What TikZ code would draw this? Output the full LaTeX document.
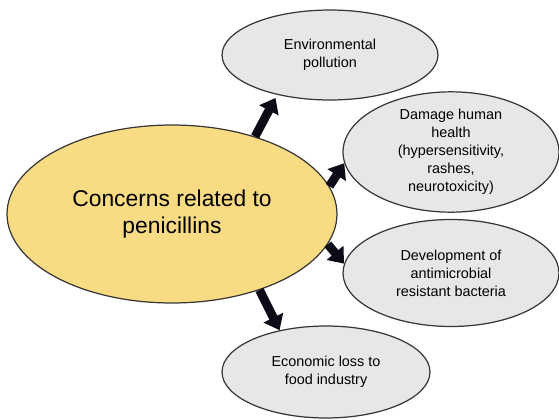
\documentclass[tikz,border=0pt]{standalone}
\usepackage{fontspec}
\setmainfont{Liberation Sans}
\usetikzlibrary{shapes.geometric,arrows.meta}

\definecolor{mainfill}{RGB}{249,219,131}
\definecolor{leaffill}{RGB}{231,231,231}
\definecolor{edgegray}{RGB}{55,55,55}
\definecolor{arrowblack}{RGB}{12,12,24}

\tikzset{
  concern/.style={ellipse,draw=edgegray,line width=0.7pt,inner sep=0pt,align=center},
  mainbox/.style={concern,fill=mainfill,font=\fontsize{13}{15.4}\selectfont},
  leafbox/.style={concern,fill=leaffill,font=\fontsize{8.2}{10.2}\selectfont},
  fatarrow/.style={arrowblack,line width=5pt,-{Triangle[width=12pt,length=8pt]}}
}

\begin{document}
\begin{tikzpicture}[x=0.02cm,y=-0.02cm]
\useasboundingbox (0,0) rectangle (559,420);

% middle and the four outcomes
\node[mainbox,minimum width=6.6cm,minimum height=3.56cm] (pen) at (172,214)
  {Concerns related to\\penicillins};
\node[leafbox,minimum width=4.32cm,minimum height=1.8cm] (env) at (330,55)
  {Environmental\\pollution};
\node[leafbox,minimum width=4.32cm,minimum height=1.94cm] (health) at (451,152)
  {Damage human\\health\\(hypersensitivity,\\rashes,\\neurotoxicity)};
\node[leafbox,minimum width=4.32cm,minimum height=2.14cm] (amr) at (451,273)
  {Development of\\antimicrobial\\resistant bacteria};
\node[leafbox,minimum width=4.16cm,minimum height=1.84cm] (econ) at (326,372)
  {Economic loss to\\food industry};

% arrows out of the middle
\draw[fatarrow,shorten >=2pt] (pen.43) -- (env.217);
\draw[fatarrow] (pen.10)  -- (health.186);
\draw[fatarrow] (pen.-11) -- (amr.175);
\draw[fatarrow] (pen.-41) -- (econ.138);
\end{tikzpicture}
\end{document}
